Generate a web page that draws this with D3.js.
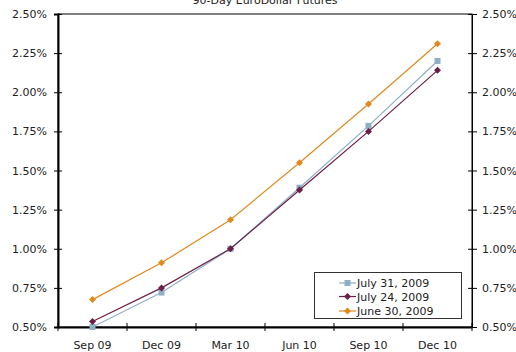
<!DOCTYPE html>
<html><head><meta charset="utf-8">
<script src="https://cdn.jsdelivr.net/npm/d3@7"></script>
<style>body{margin:0;background:#fff}svg{display:block}text{font-family:"DejaVu Sans",Verdana,sans-serif}</style>
</head><body><svg id="c" width="516" height="352"></svg>
<script>
// 90-day EuroDollar futures curve on three dates
const contracts = ["Sep 09", "Dec 09", "Mar 10", "Jun 10", "Sep 10", "Dec 10"];
const july31 = [0.50, 0.72, 1.00, 1.39, 1.785, 2.20];
const july24 = [0.535, 0.75, 1.00, 1.375, 1.75, 2.14];
const june30 = [0.675, 0.91, 1.185, 1.55, 1.925, 2.31];
const yTicks = [0.50, 0.75, 1.00, 1.25, 1.50, 1.75, 2.00, 2.25, 2.50];

const series = [
  {name: "June 30, 2009", values: june30, color: "#E08A1E", shape: "diamond"},
  {name: "July 24, 2009", values: july24, color: "#6B1F47", shape: "diamond"},
  {name: "July 31, 2009", values: july31, color: "#8FAFC4", shape: "square"}
];

const svg = d3.select("#c");
const L = 58, R = 472, T = 14, B = 327;
const x = d3.scaleBand().domain(contracts).range([L, R]);
const y = d3.scaleLinear().domain([0.5, 2.5]).range([B, T]);
const fmt = d => d.toFixed(2) + "%";

// title
svg.append("text").attr("x", 265).attr("y", 4).attr("text-anchor", "middle")
  .attr("font-size", 11).attr("fill", "#222").text("90-Day EuroDollar Futures");

// frame
svg.append("rect").attr("x", L).attr("y", T).attr("width", R - L).attr("height", B - T)
  .attr("fill", "none").attr("stroke", "#000").attr("stroke-width", 1);

// left axis
const ly = svg.append("g").attr("transform", `translate(${L},0)`)
  .call(d3.axisLeft(y).tickValues(yTicks).tickFormat(fmt).tickSize(4).tickPadding(8));
// right axis
const ry = svg.append("g").attr("transform", `translate(${R},0)`)
  .call(d3.axisRight(y).tickValues(yTicks).tickFormat(fmt).tickSize(4).tickPadding(4));
// bottom axis with ticks between categories
const bx = svg.append("g").attr("transform", `translate(0,${B})`)
  .call(d3.axisBottom(x).tickSize(0).tickPadding(14));
bx.selectAll("line.sep").data(d3.range(contracts.length + 1)).join("line")
  .attr("class", "sep").attr("x1", i => L + i * x.step()).attr("x2", i => L + i * x.step())
  .attr("y1", -4).attr("y2", 4).attr("stroke", "#000");

[ly, ry, bx].forEach(g => {
  g.selectAll("text").attr("font-size", 11).attr("fill", "#222").attr("font-family", "DejaVu Sans, Verdana, sans-serif");
  g.selectAll(".tick line").attr("stroke", "#000");
  g.select(".domain").attr("stroke", "#000");
});
ly.selectAll(".tick line").attr("x1", 4);
ry.selectAll(".tick line").attr("x1", -4).attr("x2", 5);
ly.select(".domain").attr("stroke-width", 2);
bx.select(".domain").attr("stroke-width", 2);
ly.selectAll("text").attr("x", -11);
ry.selectAll("text").attr("x", 10);

const cx = i => x(contracts[i]) + x.bandwidth() / 2;
const line = d3.line().x((d, i) => cx(i)).y(d => y(d));

function marker(g, shape, color, px, py) {
  if (shape === "square") {
    g.append("rect").attr("x", px - 3).attr("y", py - 3).attr("width", 6).attr("height", 6).attr("fill", color);
  } else {
    g.append("path").attr("d", `M${px},${py - 3.5}L${px + 3.5},${py}L${px},${py + 3.5}L${px - 3.5},${py}Z`).attr("fill", color);
  }
}

// draw lines (later series on top)
[series[0], series[2], series[1]].forEach(s => {
  const g = svg.append("g");
  g.append("path").attr("d", line(s.values)).attr("fill", "none").attr("stroke", s.color).attr("stroke-width", 1.2);
  s.values.forEach((v, i) => marker(g, s.shape, s.color, cx(i), y(v)));
});

// legend
const lg = svg.append("g");
lg.append("rect").attr("x", 314.5).attr("y", 272.5).attr("width", 147).attr("height", 46)
  .attr("fill", "#fff").attr("stroke", "#333");
const legendOrder = [series[2], series[1], series[0]];
const rowY = [283, 296.5, 311];
legendOrder.forEach((s, i) => {
  const yy = rowY[i];
  lg.append("line").attr("x1", 339).attr("x2", 356).attr("y1", yy).attr("y2", yy).attr("stroke", s.color).attr("stroke-width", 1.2);
  marker(lg, s.shape, s.color, 347.5, yy);
  lg.append("text").attr("x", 357).attr("y", yy + 4).attr("font-size", 11).attr("fill", "#222").text(s.name);
});
</script></body></html>
